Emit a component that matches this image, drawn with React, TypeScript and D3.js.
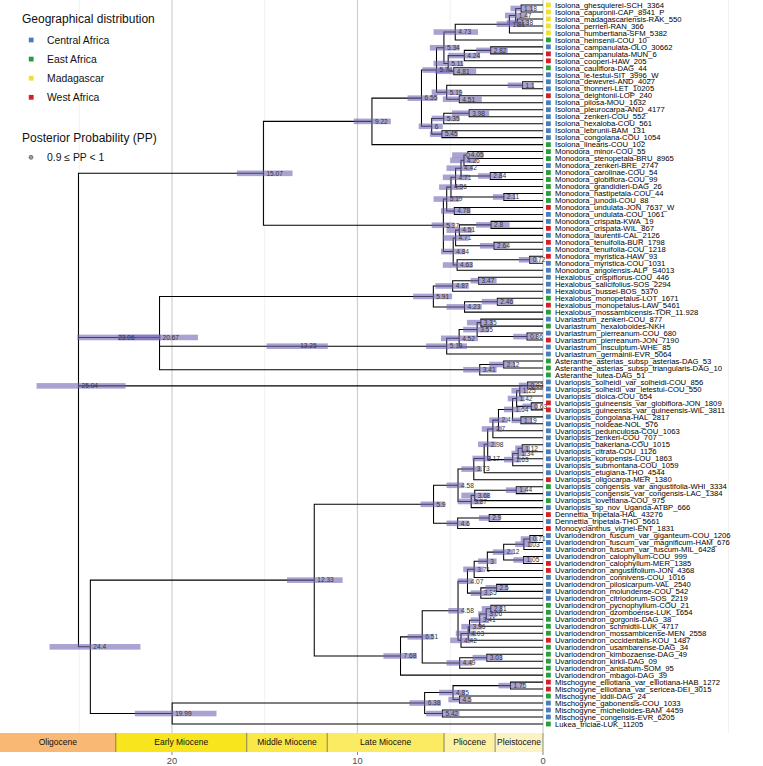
import React from 'react';
import * as d3 from 'd3';

const W = 763;
const H = 766;

const tipLabels: string[] = [
  'Isolona_ghesquierei-SCH_3364', 'Isolona_capuronii-CAP_8941_P', 'Isolona_madagascariensis-RAK_550', 'Isolona_perrieri-RAN_366',
  'Isolona_humbertiana-SFM_5382', 'Isolona_heinsenii-COU_10', 'Isolona_campanulata-OLO_30662', 'Isolona_campanulata-MUN_6',
  'Isolona_cooperi-HAW_205', 'Isolona_cauliflora-DAG_44', 'Isolona_le-testui-SIT_3996_W', 'Isolona_dewevrei-AND_4027',
  'Isolona_thonneri-LET_10205', 'Isolona_deightonii-LOP_240', 'Isolona_pilosa-MOU_1632', 'Isolona_pleurocarpa-AND_4177',
  'Isolona_zenkeri-COU_552', 'Isolona_hexaloba-COU_561', 'Isolona_lebrunii-BAM_131', 'Isolona_congolana-COU_1054',
  'Isolona_linearis-COU_102', 'Monodora_minor-COU_55', 'Monodora_stenopetala-BRU_8965', 'Monodora_zenkeri-BRE_2747',
  'Monodora_carolinae-COU_54', 'Monodora_globiflora-COU_99', 'Monodora_grandidieri-DAG_26', 'Monodora_hastipetala-COU_44',
  'Monodora_junodii-COU_88', 'Monodora_undulata-JON_7637_W', 'Monodora_undulata-COU_1061', 'Monodora_crispata-KWA_19',
  'Monodora_crispata-WIL_867', 'Monodora_laurentii-CAL_2126', 'Monodora_tenuifolia-BUR_1798', 'Monodora_tenuifolia-COU_1218',
  'Monodora_myristica-HAW_93', 'Monodora_myristica-COU_1031', 'Monodora_angolensis-ALP_S4013', 'Hexalobus_crispiflorus-COU_446',
  'Hexalobus_salicifolius-SOS_2294', 'Hexalobus_bussei-BOS_5370', 'Hexalobus_monopetalus-LOT_1671', 'Hexalobus_monopetalus-LAW_5461',
  'Hexalobus_mossambicensis-TOR_11.928', 'Uvariastrum_zenkeri-COU_877', 'Uvariastrum_hexaloboides-NKH', 'Uvariastrum_pierreanum-COU_680',
  'Uvariastrum_pierreanum-JON_7190', 'Uvariastrum_insculptum-WHE_85', 'Uvariastrum_germainii-EVR_5064', 'Asteranthe_asterias_subsp_asterias-DAG_53',
  'Asteranthe_asterias_subsp_triangularis-DAG_10', 'Asteranthe_lutea-DAG_51', 'Uvariopsis_solheidi_var_solheidi-COU_856', 'Uvariopsis_solheidi_var_letestui-COU_550',
  'Uvariopsis_dioica-COU_654', 'Uvariopsis_guineensis_var_globiflora-JON_1809', 'Uvariopsis_guineensis_var_guineensis-WIL_3811', 'Uvariopsis_congolana-HAL_2817',
  'Uvariopsis_noldeae-NOL_576', 'Uvariopsis_pedunculosa-COU_1063', 'Uvariopsis_zenkeri-COU_707', 'Uvariopsis_bakeriana-COU_1015',
  'Uvariopsis_citrata-COU_1126', 'Uvariopsis_korupensis-LOU_1863', 'Uvariopsis_submontana-COU_1059', 'Uvariopsis_etugiana-THO_4544',
  'Uvariopsis_oligocarpa-MER_1380', 'Uvariopsis_congensis_var_angustifolia-WHI_3334', 'Uvariopsis_congensis_var_congensis-LAC_1384', 'Uvariopsis_lovettiana-COU_975',
  'Uvariopsis_sp_nov_Uganda-ATBP_666', 'Dennettia_tripetala-HAL_43276', 'Dennettia_tripetala-THO_5661', 'Monocyclanthus_vignei-ENT_1831',
  'Uvariodendron_fuscum_var_giganteum-COU_1206', 'Uvariodendron_fuscum_var_magnificum-HAM_676', 'Uvariodendron_fuscum_var_fuscum-MIL_6428', 'Uvariodendron_calophyllum-COU_999',
  'Uvariodendron_calophyllum-MER_1385', 'Uvariodendron_angustifolium-JON_4368', 'Uvariodendron_connivens-COU_1016', 'Uvariodendron_pilosicarpum-VAL_2540',
  'Uvariodendron_molundense-COU_542', 'Uvariodendron_citriodorum-SOS_2219', 'Uvariodendron_pycnophyllum-COU_21', 'Uvariodendron_dzomboense-LUK_1654',
  'Uvariodendron_gorgonis-DAG_38', 'Uvariodendron_schmidtii-LUK_4717', 'Uvariodendron_mossambicense-MEN_2558', 'Uvariodendron_occidentalis-KOU_1487',
  'Uvariodendron_usambarense-DAG_34', 'Uvariodendron_kimbozaense-DAG_49', 'Uvariodendron_kirkii-DAG_09', 'Uvariodendron_anisatum-SOM_95',
  'Uvariodendron_mbagoi-DAG_39', 'Mischogyne_elliotiana_var_elliotiana-HAB_1272', 'Mischogyne_elliotiana_var_sericea-DEI_3015', 'Mischogyne_iddii-DAG_24',
  'Mischogyne_gabonensis-COU_1033', 'Mischogyne_michelioides-BAM_4459', 'Mischogyne_congensis-EVR_6205', 'Lukea_triciae-LUK_11205',
];

// C = Central Africa, E = East Africa, M = Madagascar, W = West Africa
const tipRegions: string[] = [
  'M', 'M', 'M', 'M', 'M', 'E', 'C', 'W', 'W', 'E', 'C', 'C', 'C', 'W', 'C', 'C', 'C', 'C', 'C', 'C',
  'E', 'E', 'E', 'C', 'E', 'E', 'E', 'E', 'E', 'W', 'C', 'C', 'W', 'C', 'W', 'C', 'W', 'C', 'C', 'C',
  'C', 'C', 'E', 'W', 'E', 'C', 'E', 'C', 'W', 'C', 'C', 'E', 'E', 'E', 'C', 'C', 'C', 'W', 'W', 'C',
  'C', 'C', 'C', 'C', 'C', 'C', 'C', 'C', 'W', 'E', 'C', 'E', 'C', 'W', 'C', 'W', 'C', 'C', 'C', 'C',
  'W', 'W', 'C', 'C', 'C', 'C', 'E', 'E', 'E', 'E', 'E', 'W', 'E', 'E', 'E', 'E', 'E', 'W', 'W', 'E',
  'C', 'C', 'C', 'E',
];

const regionCodes = ['C', 'E', 'M', 'W'];
const regionNames = ['Central Africa', 'East Africa', 'Madagascar', 'West Africa'];
const regionColors = ['#4A7EBB', '#2A9D3A', '#F0E130', '#D31F26'];

// Clades: (childA,childB)age/hpdLow/hpdHigh ; "*" marks 0.9 <= PP < 1
const cladeMadagascar = '((((0,1)1.18/0.55/1.75,(2,3)1.38/0.75/1.95)1.47/0.9/2.05,4)1.81/1.2/2.5,5)4.73/3.5/5.9';
const cladeCampanulata = '(((6,7)2.82/1.9/3.6,8)4.24/3.4/5.1,(9,10)4.81/3.6/5.8)5.11/4.3/5.9';
const cladeIsolonaA = `((${cladeMadagascar},${cladeCampanulata})5.34/4.5/6.1,((11,12)1.1/0.5/1.9,(13,14)4.51/3.3/5.4)5.19/4.4/6.0)5.74/5.0/6.5`;
const cladeIsolonaB = '(((15,16)3.98/2.9/4.9,17)5.35/4.5/6.0,(18,19)5.45/4.6/6.1)6/5.4/6.7';
const cladeIsolona = `((${cladeIsolonaA},${cladeIsolonaB})6.55/5.7/7.3,20)9.22/8.2/10.2`;
const cladeMonodoraA = '((((((21,22)4.05/3.2/4.9*,23)4.26/3.6/5.0,(24,25)2.84/2.2/3.5)4.42/3.8/5.2,26)4.71/4.0/5.4,(27,28)2.11/1.5/2.7)4.96/4.3/5.6,(29,30)4.78/3.9/5.5)5.19/4.5/5.9';
const cladeMonodoraB = '((((31,32)2.8/1.8/3.6,33)4.51/3.8/5.2,(34,35)2.64/1.9/3.4)4.71/4.0/5.4,((36,37)0.72/0.3/1.3,38)4.63/3.8/5.4)4.84/4.2/5.5';
const cladeMonodora = `(${cladeMonodoraA},${cladeMonodoraB})5.37/4.8/6.0`;
const cladeHexalobus = '(((39,40)3.47/2.5/3.9,41)4.87/4.0/5.8,((42,43)2.46/1.6/3.3,44)4.23/3.3/5.2)5.91/4.9/7.0';
const cladeUvariastrum = '(((((45,46)3.35/2.7/4.1,(47,48)0.86/0.3/1.6)3.55/2.9/4.3,49)4.52/3.5/5.5,50)5.19/4.1/6.3';
const cladeAsteranthe = '((51,52)2.12/1.5/2.9,53)3.41/2.5/4.3';
const cladeUpper = `(((${cladeIsolona},${cladeMonodora})15.07/13.5/16.5,((${cladeHexalobus},${cladeUvariastrum})13.25/11.6/14.9,${cladeAsteranthe})20.67/18.6/22.9)23.06/20.6/25.1`;
const cladeUvariopsisA = '(((((((((54,55)0.83/0.4/1.3,56)1.25/0.8/1.7,(57,58)0.63/0.3/1.1)1.42/1.0/1.9,(59,60)1.19/0.6/1.7)1.64/1.2/2.1,61)2.4/1.9/2.9,62)2.7/2.2/3.3,(((63,64)1.12/0.7/1.5,65)1.34/0.9/1.7,66)1.63/1.2/2.1)2.98/2.5/3.5,67)3.17/2.8/3.8,68)3.73/3.3/4.4';
const cladeUvariopsisB = '(((69,70)1.44/0.9/2.0,71)3.68/2.9/4.4,72)3.87/3.3/4.6';
const cladeDennettia = '((73,74)2.9/2.3/3.45,75)4.6/4.0/5.2';
const cladeUvariopsis = `((${cladeUvariopsisA},${cladeUvariopsisB})4.58/4.3/5.2,${cladeDennettia})5.9/5.3/6.6`;
const cladeUvariodendronA = '((((((76,77)0.71/0.3/1.2,78)1.03/0.6/1.5,(79,80)1.05/0.6/1.6)2.12/1.6/2.7,81)3/2.5/3.5,82)3.71/3.2/4.3,((83,84)2.5/1.9/3.1,85)3.35/2.8/3.9)4.07/3.8/4.6';
const cladeUvariodendronE = '((((((86,87)2.81/2.2/3.3,88)3.06/2.5/3.5,89)3.41/2.9/3.9,90)3.96/3.3/4.4,91)4.03/3.6/4.7,92)4.42/3.9/5.0';
const cladeUvariodendronK = '((93,94)3.03/2.2/3.8,95)4.49/3.8/5.2';
const cladeUvariodendron = `(((${cladeUvariodendronA},${cladeUvariodendronE})4.58/4.3/5.1,${cladeUvariodendronK})6.51/5.9/7.3,96)7.68/6.8/8.6`;
const cladeMischogyne = '(((97,98)1.75/1.0/2.4,(99,100)4.5/3.9/5.1)4.85/4.2/5.6,(101,102)5.42/4.5/6.3)6.38/5.5/7.2';
const cladeLower = `((${cladeUvariopsis},${cladeUvariodendron})12.33/10.8/13.8,(${cladeMischogyne},103)19.99/17.6/22.0)24.4/21.7/26.6`;
const treeNewick = `(${cladeUpper},${cladeLower})25.04/22.5/27.3`;

const epochNames = ['Oligocene', 'Early Miocene', 'Middle Miocene', 'Late Miocene', 'Pliocene', 'Pleistocene'];
const epochStart = [33.9, 23.03, 15.97, 11.63, 5.333, 2.58];
const epochEnd = [23.03, 15.97, 11.63, 5.333, 2.58, 0];
const epochColors = ['#F9B874', '#F8E51E', '#F9E848', '#FAEB62', '#FCF2A2', '#FDF3C2'];

const axisTicks = [20, 10, 0];
const majorGrid = [20, 10, 0];
const minorGrid = [25, 15, 5, -10];

type TNode = { children: TNode[]; tip: number; age: number; label: string; lo: number; hi: number; pp: boolean; y: number };

function parseTree(s: string): TNode {
  let i = 0;
  const read = (): TNode => {
    if (s[i] === '(') {
      i++;
      const children = [read()];
      while (s[i] === ',') { i++; children.push(read()); }
      i++;
      let lab = '';
      while (i < s.length && s[i] !== ',' && s[i] !== ')') lab += s[i++];
      const pp = lab.endsWith('*');
      if (pp) lab = lab.slice(0, -1);
      const parts = lab.split('/');
      return { children, tip: -1, age: +parts[0], label: parts[0], lo: +parts[1], hi: +parts[2], pp, y: 0 };
    }
    let t = '';
    while (i < s.length && s[i] !== ',' && s[i] !== ')') t += s[i++];
    return { children: [], tip: +t, age: 0, label: '', lo: 0, hi: 0, pp: false, y: 0 };
  };
  return read();
}

const FONT = '"Liberation Sans", Arial, Helvetica, sans-serif';

export default function App() {
  const x = d3.scaleLinear().domain([29.27, -11.86]).range([0, W]);
  const yTip = d3.scaleLinear().domain([0, tipLabels.length - 1]).range([5, 724]);
  const panelBottom = 733;

  const root = parseTree(treeNewick);
  const internals: TNode[] = [];
  const setY = (n: TNode): number => {
    if (n.children.length === 0) { n.y = yTip(n.tip); return n.y; }
    const ys = n.children.map(setY);
    n.y = d3.mean(ys) as number;
    internals.push(n);
    return n.y;
  };
  setY(root);

  const paths: string[] = [];
  internals.forEach((n) => {
    const cs = [...n.children].sort((a, b) => a.y - b.y);
    const nx = x(n.age);
    const first = cs[0];
    const last = cs[cs.length - 1];
    paths.push(`M${x(first.age)},${first.y}H${nx}V${last.y}H${x(last.age)}`);
    cs.slice(1, -1).forEach((c) => paths.push(`M${nx},${c.y}H${x(c.age)}`));
  });

  const colorOf = (code: string) => regionColors[regionCodes.indexOf(code)];

  return (
    <svg width={W} height={H} style={{ position: 'absolute', left: 0, top: 0, background: '#fff' }} fontFamily={FONT}>
      <rect x={0} y={0} width={W} height={H} fill="#fff" />
      {minorGrid.map((g) => (
        <line key={'mi' + g} x1={x(g)} x2={x(g)} y1={0} y2={panelBottom} stroke="#EDEDED" strokeWidth={0.8} />
      ))}
      {majorGrid.map((g) => (
        <line key={'ma' + g} x1={x(g)} x2={x(g)} y1={0} y2={panelBottom} stroke="#CFCFCF" strokeWidth={1.2} />
      ))}

      {/* legend */}
      <text x={22} y={23.3} fontSize={12} fill="#111">Geographical distribution</text>
      {regionNames.map((r, i) => {
        const cy = 40 + i * 19.1;
        return (
          <g key={r}>
            <rect x={28.8} y={cy - 2.4} width={4.8} height={4.8} fill={regionColors[i]} />
            <text x={47} y={cy} dy="0.35em" fontSize={10.4} fill="#111">{r}</text>
          </g>
        );
      })}
      <text x={22} y={141.5} fontSize={12} fill="#111">Posterior Probability (PP)</text>
      <circle cx={31} cy={157.3} r={2} fill="#A0A0A0" stroke="#444" strokeWidth={0.6} />
      <text x={47} y={157.3} dy="0.35em" fontSize={10.4} fill="#111">0.9 ≤ PP &lt; 1</text>

      {/* tree branches */}
      <path d={paths.join('')} fill="none" stroke="#000" strokeWidth={1.05} />

      {/* HPD bars */}
      {internals.map((n, i) => (
        <rect key={'b' + i} x={x(n.hi)} width={x(n.lo) - x(n.hi)} y={n.y - 2.8} height={5.6} fill="#6F66B4" fillOpacity={0.6} />
      ))}

      {/* node ages */}
      {internals.map((n, i) => (
        <text key={'l' + i} x={x(n.age) + 3} y={n.y} dy="0.35em" fontSize={6.6} fill="#333">{n.label}</text>
      ))}
      {internals.filter((n) => n.pp).map((n, i) => (
        <circle key={'pp' + i} cx={x(n.age)} cy={n.y} r={2} fill="#A0A0A0" stroke="#444" strokeWidth={0.6} />
      ))}

      {/* tips */}
      {tipLabels.map((t, i) => (
        <g key={t}>
          <rect x={546} y={yTip(i) - 2.4} width={4.8} height={4.8} fill={colorOf(tipRegions[i])} />
          <text x={555} y={yTip(i)} dy="0.35em" fontSize={7.7} fill="#000">{t}</text>
        </g>
      ))}

      {/* geological time scale */}
      {epochNames.map((e, i) => {
        const x0 = Math.max(0, x(epochStart[i]));
        const x1 = x(epochEnd[i]);
        return (
          <g key={e}>
            <rect x={x0} y={panelBottom} width={x1 - x0} height={19} fill={epochColors[i]} />
            <text x={(x0 + x1) / 2} y={panelBottom + 9.5} dy="0.35em" fontSize={8.5} textAnchor="middle" fill="#111">{e}</text>
          </g>
        );
      })}
      {epochEnd.map((e, i) => (
        <line key={'sep' + i} x1={x(e)} x2={x(e)} y1={panelBottom} y2={panelBottom + 19} stroke="#555" strokeWidth={0.7} />
      ))}

      {/* axis */}
      {axisTicks.map((t) => (
        <g key={'t' + t}>
          <line x1={x(t)} x2={x(t)} y1={panelBottom + 19} y2={panelBottom + 22} stroke="#333" strokeWidth={0.6} />
          <text x={x(t)} y={764} fontSize={9.3} textAnchor="middle" fill="#4D4D4D">{t}</text>
        </g>
      ))}
    </svg>
  );
}
